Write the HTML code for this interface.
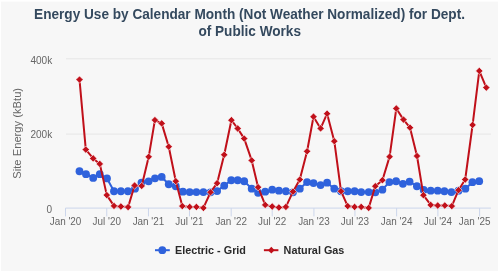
<!DOCTYPE html>
<html><head><meta charset="utf-8">
<style>
html,body{margin:0;padding:0;background:#ffffff;}
body{width:500px;height:273px;overflow:hidden;position:relative;}
svg{position:absolute;left:0;top:0;will-change:transform;}
text{font-family:"Liberation Sans",sans-serif;}
</style></head><body>
<svg width="500" height="273" viewBox="0 0 500 273">
<rect x="1" y="1.6" width="497" height="269.3" fill="#f7f7f7"/>
<g fill="#34495e" font-weight="bold" font-size="14.3" text-anchor="middle">
<text transform="translate(249.5 19) scale(0.953 1)">Energy Use by Calendar Month (Not Weather Normalized) for Dept.</text>
<text transform="translate(249.7 35.5) scale(0.953 1)">of Public Works</text>
</g>
<g stroke="#e6e6e6" stroke-width="1" fill="none">
<path d="M66 58.8 L491 58.8"/>
<path d="M66 134.1 L491 134.1"/>
</g>
<g stroke="#ccd6eb" stroke-width="1" fill="none">
<path d="M65.5 208.1 L490.9 208.1"/>
<path d="M65.50 208.1 L65.50 216.4"/><path d="M106.75 208.1 L106.75 216.4"/><path d="M148.46 208.1 L148.46 216.4"/><path d="M189.48 208.1 L189.48 216.4"/><path d="M231.19 208.1 L231.19 216.4"/><path d="M272.21 208.1 L272.21 216.4"/><path d="M313.91 208.1 L313.91 216.4"/><path d="M354.94 208.1 L354.94 216.4"/><path d="M396.64 208.1 L396.64 216.4"/><path d="M437.90 208.1 L437.90 216.4"/><path d="M479.60 208.1 L479.60 216.4"/>
</g>
<g fill="#666666" font-size="10.05" text-anchor="end">
<text x="52.2" y="64">400k</text>
<text x="52.2" y="137.8">200k</text>
<text x="52.2" y="212.5">0</text>
</g>
<g fill="#666666" font-size="10.4" text-anchor="middle">
<text transform="translate(65.50 225) scale(0.952 1)">Jan '20</text><text transform="translate(106.75 225) scale(0.952 1)">Jul '20</text><text transform="translate(148.46 225) scale(0.952 1)">Jan '21</text><text transform="translate(189.48 225) scale(0.952 1)">Jul '21</text><text transform="translate(231.19 225) scale(0.952 1)">Jan '22</text><text transform="translate(272.21 225) scale(0.952 1)">Jul '22</text><text transform="translate(313.91 225) scale(0.952 1)">Jan '23</text><text transform="translate(354.94 225) scale(0.952 1)">Jul '23</text><text transform="translate(396.64 225) scale(0.952 1)">Jan '24</text><text transform="translate(437.90 225) scale(0.952 1)">Jul '24</text><text transform="translate(490.4 225) scale(0.952 1)" text-anchor="end">Jan '25</text>
</g>
<text transform="translate(21.2 133.3) rotate(-90)" text-anchor="middle" fill="#666666" font-size="11.2">Site Energy (kBtu)</text>
<g fill="none" stroke-linejoin="round" stroke-linecap="round" stroke-width="2">
<path d="M79.50 171.25 L86.00 174.15 L93.20 177.95 L99.80 174.15 L107.00 178.45 L114.00 191.25 L120.90 191.25 L127.90 191.25 L135.00 188.65 L141.50 182.55 L148.60 181.35 L155.00 178.35 L161.70 176.95 L168.75 184.25 L175.80 186.25 L182.90 191.70 L189.70 192.10 L196.40 192.10 L203.40 192.10 L210.50 192.35 L217.10 191.05 L224.20 185.65 L231.25 180.25 L237.70 180.25 L244.20 181.25 L251.70 188.65 L258.10 192.75 L265.20 191.70 L272.20 189.65 L278.90 190.65 L285.90 191.25 L293.00 192.35 L299.80 188.65 L307.10 182.05 L313.50 183.05 L320.60 185.05 L327.10 182.65 L334.30 188.65 L341.00 191.25 L347.70 191.25 L354.60 191.25 L361.20 192.10 L368.70 192.10 L375.30 192.35 L382.40 189.65 L389.40 182.05 L396.10 181.25 L402.90 183.85 L409.60 181.65 L416.90 186.25 L423.70 189.95 L430.70 190.65 L437.70 190.65 L444.40 191.25 L451.40 192.10 L458.50 190.65 L465.40 188.65 L472.40 182.15 L479.20 181.15" stroke="#2f62dc"/>
</g>
<g fill="#2f62dc"><circle cx="79.50" cy="171.25" r="3.9"/><circle cx="86.00" cy="174.15" r="3.9"/><circle cx="93.20" cy="177.95" r="3.9"/><circle cx="99.80" cy="174.15" r="3.9"/><circle cx="107.00" cy="178.45" r="3.9"/><circle cx="114.00" cy="191.25" r="3.9"/><circle cx="120.90" cy="191.25" r="3.9"/><circle cx="127.90" cy="191.25" r="3.9"/><circle cx="135.00" cy="188.65" r="3.9"/><circle cx="141.50" cy="182.55" r="3.9"/><circle cx="148.60" cy="181.35" r="3.9"/><circle cx="155.00" cy="178.35" r="3.9"/><circle cx="161.70" cy="176.95" r="3.9"/><circle cx="168.75" cy="184.25" r="3.9"/><circle cx="175.80" cy="186.25" r="3.9"/><circle cx="182.90" cy="191.70" r="3.9"/><circle cx="189.70" cy="192.10" r="3.9"/><circle cx="196.40" cy="192.10" r="3.9"/><circle cx="203.40" cy="192.10" r="3.9"/><circle cx="210.50" cy="192.35" r="3.9"/><circle cx="217.10" cy="191.05" r="3.9"/><circle cx="224.20" cy="185.65" r="3.9"/><circle cx="231.25" cy="180.25" r="3.9"/><circle cx="237.70" cy="180.25" r="3.9"/><circle cx="244.20" cy="181.25" r="3.9"/><circle cx="251.70" cy="188.65" r="3.9"/><circle cx="258.10" cy="192.75" r="3.9"/><circle cx="265.20" cy="191.70" r="3.9"/><circle cx="272.20" cy="189.65" r="3.9"/><circle cx="278.90" cy="190.65" r="3.9"/><circle cx="285.90" cy="191.25" r="3.9"/><circle cx="293.00" cy="192.35" r="3.9"/><circle cx="299.80" cy="188.65" r="3.9"/><circle cx="307.10" cy="182.05" r="3.9"/><circle cx="313.50" cy="183.05" r="3.9"/><circle cx="320.60" cy="185.05" r="3.9"/><circle cx="327.10" cy="182.65" r="3.9"/><circle cx="334.30" cy="188.65" r="3.9"/><circle cx="341.00" cy="191.25" r="3.9"/><circle cx="347.70" cy="191.25" r="3.9"/><circle cx="354.60" cy="191.25" r="3.9"/><circle cx="361.20" cy="192.10" r="3.9"/><circle cx="368.70" cy="192.10" r="3.9"/><circle cx="375.30" cy="192.35" r="3.9"/><circle cx="382.40" cy="189.65" r="3.9"/><circle cx="389.40" cy="182.05" r="3.9"/><circle cx="396.10" cy="181.25" r="3.9"/><circle cx="402.90" cy="183.85" r="3.9"/><circle cx="409.60" cy="181.65" r="3.9"/><circle cx="416.90" cy="186.25" r="3.9"/><circle cx="423.70" cy="189.95" r="3.9"/><circle cx="430.70" cy="190.65" r="3.9"/><circle cx="437.70" cy="190.65" r="3.9"/><circle cx="444.40" cy="191.25" r="3.9"/><circle cx="451.40" cy="192.10" r="3.9"/><circle cx="458.50" cy="190.65" r="3.9"/><circle cx="465.40" cy="188.65" r="3.9"/><circle cx="472.40" cy="182.15" r="3.9"/><circle cx="479.20" cy="181.15" r="3.9"/></g>
<g fill="none" stroke-linejoin="round" stroke-linecap="round" stroke-width="2">
<path d="M79.50 79.60 L85.80 149.60 L93.20 158.40 L99.80 163.90 L106.80 195.10 L114.00 205.90 L120.90 206.50 L128.10 207.10 L134.60 185.50 L141.70 185.90 L148.70 156.80 L154.90 120.10 L161.70 123.40 L168.75 146.70 L175.80 181.20 L182.30 206.10 L189.70 206.90 L196.40 206.90 L203.40 207.90 L210.50 192.30 L217.10 183.20 L224.20 154.80 L231.40 120.20 L237.70 128.50 L244.20 138.60 L251.70 160.40 L258.10 187.20 L265.20 204.90 L272.20 206.50 L278.90 207.50 L285.90 206.90 L293.00 191.65 L299.80 179.60 L307.10 151.30 L313.50 116.70 L320.60 128.40 L327.10 113.70 L334.30 141.20 L341.00 191.20 L347.70 206.10 L354.60 206.90 L361.20 206.90 L368.70 207.90 L375.30 186.20 L382.40 180.20 L389.60 156.65 L396.30 108.50 L403.50 119.60 L410.00 127.70 L417.00 156.00 L423.40 195.20 L430.70 204.90 L437.70 205.50 L444.80 205.50 L451.80 206.10 L458.50 190.20 L465.20 179.50 L472.60 124.90 L479.30 70.90 L486.30 87.60" stroke="#c0101a"/>
</g>
<g fill="#c0101a" stroke="#ffffff" stroke-width="0.6"><path d="M79.50 75.95L83.15 79.60L79.50 83.25L75.85 79.60Z"/><path d="M85.80 145.95L89.45 149.60L85.80 153.25L82.15 149.60Z"/><path d="M93.20 154.75L96.85 158.40L93.20 162.05L89.55 158.40Z"/><path d="M99.80 160.25L103.45 163.90L99.80 167.55L96.15 163.90Z"/><path d="M106.80 191.45L110.45 195.10L106.80 198.75L103.15 195.10Z"/><path d="M114.00 202.25L117.65 205.90L114.00 209.55L110.35 205.90Z"/><path d="M120.90 202.85L124.55 206.50L120.90 210.15L117.25 206.50Z"/><path d="M128.10 203.45L131.75 207.10L128.10 210.75L124.45 207.10Z"/><path d="M134.60 181.85L138.25 185.50L134.60 189.15L130.95 185.50Z"/><path d="M141.70 182.25L145.35 185.90L141.70 189.55L138.05 185.90Z"/><path d="M148.70 153.15L152.35 156.80L148.70 160.45L145.05 156.80Z"/><path d="M154.90 116.45L158.55 120.10L154.90 123.75L151.25 120.10Z"/><path d="M161.70 119.75L165.35 123.40L161.70 127.05L158.05 123.40Z"/><path d="M168.75 143.05L172.40 146.70L168.75 150.35L165.10 146.70Z"/><path d="M175.80 177.55L179.45 181.20L175.80 184.85L172.15 181.20Z"/><path d="M182.30 202.45L185.95 206.10L182.30 209.75L178.65 206.10Z"/><path d="M189.70 203.25L193.35 206.90L189.70 210.55L186.05 206.90Z"/><path d="M196.40 203.25L200.05 206.90L196.40 210.55L192.75 206.90Z"/><path d="M203.40 204.25L207.05 207.90L203.40 211.55L199.75 207.90Z"/><path d="M210.50 188.65L214.15 192.30L210.50 195.95L206.85 192.30Z"/><path d="M217.10 179.55L220.75 183.20L217.10 186.85L213.45 183.20Z"/><path d="M224.20 151.15L227.85 154.80L224.20 158.45L220.55 154.80Z"/><path d="M231.40 116.55L235.05 120.20L231.40 123.85L227.75 120.20Z"/><path d="M237.70 124.85L241.35 128.50L237.70 132.15L234.05 128.50Z"/><path d="M244.20 134.95L247.85 138.60L244.20 142.25L240.55 138.60Z"/><path d="M251.70 156.75L255.35 160.40L251.70 164.05L248.05 160.40Z"/><path d="M258.10 183.55L261.75 187.20L258.10 190.85L254.45 187.20Z"/><path d="M265.20 201.25L268.85 204.90L265.20 208.55L261.55 204.90Z"/><path d="M272.20 202.85L275.85 206.50L272.20 210.15L268.55 206.50Z"/><path d="M278.90 203.85L282.55 207.50L278.90 211.15L275.25 207.50Z"/><path d="M285.90 203.25L289.55 206.90L285.90 210.55L282.25 206.90Z"/><path d="M293.00 188.00L296.65 191.65L293.00 195.30L289.35 191.65Z"/><path d="M299.80 175.95L303.45 179.60L299.80 183.25L296.15 179.60Z"/><path d="M307.10 147.65L310.75 151.30L307.10 154.95L303.45 151.30Z"/><path d="M313.50 113.05L317.15 116.70L313.50 120.35L309.85 116.70Z"/><path d="M320.60 124.75L324.25 128.40L320.60 132.05L316.95 128.40Z"/><path d="M327.10 110.05L330.75 113.70L327.10 117.35L323.45 113.70Z"/><path d="M334.30 137.55L337.95 141.20L334.30 144.85L330.65 141.20Z"/><path d="M341.00 187.55L344.65 191.20L341.00 194.85L337.35 191.20Z"/><path d="M347.70 202.45L351.35 206.10L347.70 209.75L344.05 206.10Z"/><path d="M354.60 203.25L358.25 206.90L354.60 210.55L350.95 206.90Z"/><path d="M361.20 203.25L364.85 206.90L361.20 210.55L357.55 206.90Z"/><path d="M368.70 204.25L372.35 207.90L368.70 211.55L365.05 207.90Z"/><path d="M375.30 182.55L378.95 186.20L375.30 189.85L371.65 186.20Z"/><path d="M382.40 176.55L386.05 180.20L382.40 183.85L378.75 180.20Z"/><path d="M389.60 153.00L393.25 156.65L389.60 160.30L385.95 156.65Z"/><path d="M396.30 104.85L399.95 108.50L396.30 112.15L392.65 108.50Z"/><path d="M403.50 115.95L407.15 119.60L403.50 123.25L399.85 119.60Z"/><path d="M410.00 124.05L413.65 127.70L410.00 131.35L406.35 127.70Z"/><path d="M417.00 152.35L420.65 156.00L417.00 159.65L413.35 156.00Z"/><path d="M423.40 191.55L427.05 195.20L423.40 198.85L419.75 195.20Z"/><path d="M430.70 201.25L434.35 204.90L430.70 208.55L427.05 204.90Z"/><path d="M437.70 201.85L441.35 205.50L437.70 209.15L434.05 205.50Z"/><path d="M444.80 201.85L448.45 205.50L444.80 209.15L441.15 205.50Z"/><path d="M451.80 202.45L455.45 206.10L451.80 209.75L448.15 206.10Z"/><path d="M458.50 186.55L462.15 190.20L458.50 193.85L454.85 190.20Z"/><path d="M465.20 175.85L468.85 179.50L465.20 183.15L461.55 179.50Z"/><path d="M472.60 121.25L476.25 124.90L472.60 128.55L468.95 124.90Z"/><path d="M479.30 67.25L482.95 70.90L479.30 74.55L475.65 70.90Z"/><path d="M486.30 83.95L489.95 87.60L486.30 91.25L482.65 87.60Z"/></g>
<g>
<path d="M155 250.2 L169.8 250.2" stroke="#2f62dc" stroke-width="2"/>
<circle cx="162.3" cy="250.2" r="3.9" fill="#2f62dc"/>
<text transform="translate(175 254) scale(0.985 1)" font-size="11" font-weight="bold" fill="#2a2a2a">Electric - Grid</text>
<path d="M263.9 250.2 L278.4 250.2" stroke="#c0101a" stroke-width="2"/>
<path d="M271.3 246.8L274.6 250.2L271.3 253.6L268.0 250.2Z" fill="#c0101a"/>
<text transform="translate(283.6 254) scale(0.985 1)" font-size="11" font-weight="bold" fill="#2a2a2a">Natural Gas</text>
</g>
</svg>
</body></html>
